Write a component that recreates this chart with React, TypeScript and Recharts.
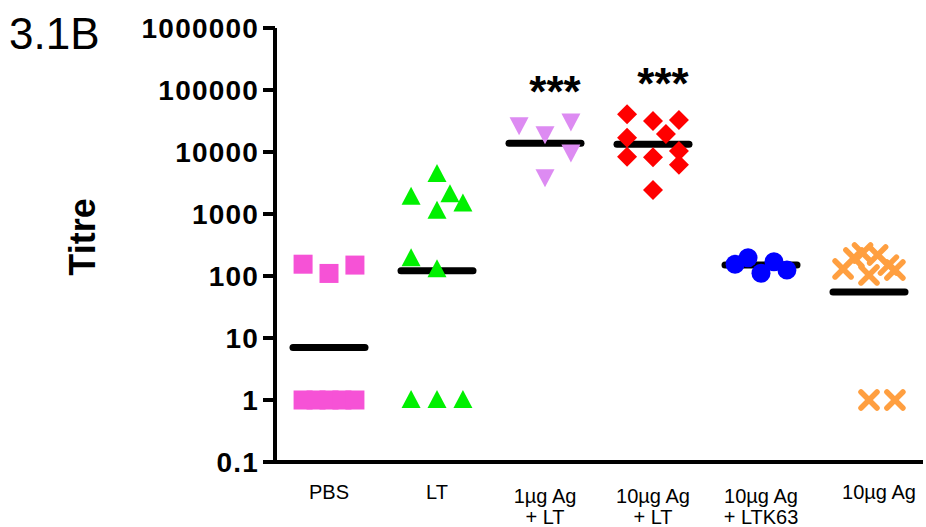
import React from 'react';
import { ScatterChart, Scatter, XAxis, YAxis, Label } from 'recharts';

// categories (two label lines each)
const catLine1 = ['PBS', 'LT', '1µg Ag', '10µg Ag', '10µg Ag', '10µg Ag'];
const catLine2 = ['', '', '+ LT', '+ LT', '+ LTK63', ''];

const yTicks = [0.1, 1, 10, 100, 1000, 10000, 100000, 1000000];

// per-group points: x jitter (category units) and titre
const pbsX = [-0.24, 0, 0.24, -0.24, -0.12, 0, 0.12, 0.24];
const pbsY = [155, 110, 150, 1, 1, 1, 1, 1];
const ltX = [0, -0.24, 0.12, 0.24, 0, -0.24, 0, -0.24, 0, 0.24];
const ltY = [4400, 1900, 2080, 1480, 1130, 193, 128, 1, 1, 1];
const ag1ltX = [-0.24, 0, 0.24, 0.24, 0];
const ag1ltY = [27000, 19300, 31000, 9800, 3900];
const ag10ltX = [-0.24, 0, 0.24, 0.12, -0.24, -0.24, 0, 0.24, 0.24, 0];
const ag10ltY = [40500, 31600, 32800, 19500, 17000, 8400, 8200, 10400, 6200, 2440];
const ltk63X = [-0.24, -0.12, 0, 0.12, 0.24];
const ltk63Y = [155, 197, 111, 170, 125];
const ag10X = [-0.24, -0.14, -0.06, 0.08, 0, 0.18, 0.24, 0, 0.24];
const ag10Y = [130, 195, 235, 218, 104, 150, 125, 1, 1];

const medians = [7, 122, 13800, 13300, 150, 55];
const sigGroups = [2, 3];
const sigY = [130000, 175000];

const FONT = '"Liberation Sans", Arial, Helvetica, sans-serif';

const pts = (g: number, xs: number[], ys: number[]) => xs.map((dx, i) => ({ x: g + dx, y: ys[i] }));

const square = (fill: string) => (p: any) => (
  <rect x={p.cx - 9.5} y={p.cy - 9.5} width={19} height={19} fill={fill} />
);
const triUp = (fill: string) => (p: any) => (
  <polygon points={`${p.cx},${p.cy - 10} ${p.cx + 9.5},${p.cy + 8} ${p.cx - 9.5},${p.cy + 8}`} fill={fill} />
);
const triDown = (fill: string) => (p: any) => (
  <polygon points={`${p.cx - 9.5},${p.cy - 8} ${p.cx + 9.5},${p.cy - 8} ${p.cx},${p.cy + 10}`} fill={fill} />
);
const diamond = (fill: string) => (p: any) => (
  <polygon points={`${p.cx},${p.cy - 10} ${p.cx + 10},${p.cy} ${p.cx},${p.cy + 10} ${p.cx - 10},${p.cy}`} fill={fill} />
);
const circle = (fill: string) => (p: any) => <circle cx={p.cx} cy={p.cy} r={9.5} fill={fill} />;
const cross = (stroke: string) => (p: any) => (
  <g stroke={stroke} strokeWidth={5.5} strokeLinecap="round">
    <line x1={p.cx - 8} y1={p.cy - 8} x2={p.cx + 8} y2={p.cy + 8} />
    <line x1={p.cx - 8} y1={p.cy + 8} x2={p.cx + 8} y2={p.cy - 8} />
  </g>
);
const medianBar = (p: any) => (
  <line x1={p.cx - 36} y1={p.cy} x2={p.cx + 36} y2={p.cy} stroke="#000" strokeWidth={7} strokeLinecap="round" />
);
const stars = (p: any) => (
  <text x={p.cx + 10} y={p.cy + 24} textAnchor="middle" fontSize={44} fontWeight="bold" fontFamily={FONT} fill="#000">***</text>
);

const XTick = (p: any) => {
  const i = p.payload.value as number;
  const two = catLine2[i] !== '';
  const dx = i === 5 ? 10 : 0;
  const st = { fontFamily: FONT, fontSize: 20, fill: '#000' };
  return (
    <g>
      <text x={p.x + dx} y={p.y + (two ? 41 : 37)} textAnchor="middle" {...st}>{catLine1[i]}</text>
      {two && <text x={p.x + dx} y={p.y + 62} textAnchor="middle" {...st}>{catLine2[i]}</text>}
    </g>
  );
};

export default function App() {
  return (
    <div style={{ position: 'absolute', left: 0, top: 0, width: 926, height: 527, background: '#fff' }}>
      <ScatterChart width={926} height={527} margin={{ top: 28, right: 3, bottom: 0, left: 0 }}>
        <XAxis
          type="number"
          dataKey="x"
          domain={[-0.5, 5.5]}
          ticks={[0, 1, 2, 3, 4, 5]}
          interval={0}
          height={65}
          tickSize={0}
          tickMargin={0}
          tickLine={false}
          axisLine={{ stroke: '#000', strokeWidth: 4 }}
          tick={<XTick />}
        />
        <YAxis
          type="number"
          dataKey="y"
          scale="log"
          domain={[0.1, 1000000]}
          allowDataOverflow
          ticks={yTicks}
          interval={0}
          width={275}
          tickSize={12}
          tickMargin={4}
          tickFormatter={(v: number) => String(v)}
          axisLine={{ stroke: '#000', strokeWidth: 4 }}
          tickLine={{ stroke: '#000', strokeWidth: 4 }}
          tick={{ fontSize: 28, fontWeight: 'bold', fill: '#000', fontFamily: FONT, letterSpacing: 1.2 }}
        >
          <Label
            content={() => (
              <text transform="translate(95,237) rotate(-90)" textAnchor="middle" fontSize={36} fontWeight="bold" fontFamily={FONT} fill="#000">Titre</text>
            )}
          />
        </YAxis>
        <Scatter data={medians.map((m, i) => ({ x: i, y: m }))} shape={medianBar} isAnimationActive={false} />
        <Scatter data={pts(0, pbsX, pbsY)} shape={square('#f652d6')} isAnimationActive={false} />
        <Scatter data={pts(1, ltX, ltY)} shape={triUp('#00f000')} isAnimationActive={false} />
        <Scatter data={pts(2, ag1ltX, ag1ltY)} shape={triDown('#dd8bf2')} isAnimationActive={false} />
        <Scatter data={pts(3, ag10ltX, ag10ltY)} shape={diamond('#ff0000')} isAnimationActive={false} />
        <Scatter data={pts(4, ltk63X, ltk63Y)} shape={circle('#0000ff')} isAnimationActive={false} />
        <Scatter data={pts(5, ag10X, ag10Y)} shape={cross('#ff9f40')} isAnimationActive={false} />
        <Scatter data={sigGroups.map((g, i) => ({ x: g, y: sigY[i] }))} shape={stars} isAnimationActive={false} />
      </ScatterChart>
      <svg width={926} height={527} style={{ position: 'absolute', left: 0, top: 0, pointerEvents: 'none' }}>
        <text x={9} y={49} fontSize={44} fontFamily={FONT} fill="#000">3.1B</text>
      </svg>
    </div>
  );
}
